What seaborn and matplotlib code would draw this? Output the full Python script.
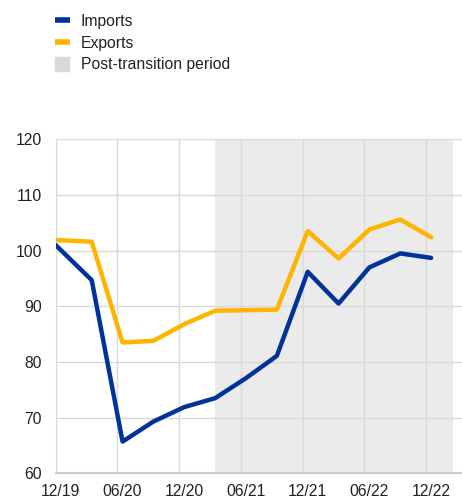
import matplotlib
matplotlib.use("Agg")
import matplotlib.pyplot as plt
from matplotlib.lines import Line2D
import seaborn as sns
import pandas as pd
import numpy as np

# months since Dec 2019 (quarterly observations)
months = [0, 3.5, 6.5, 9.5, 12.5, 15.5, 18.5, 21.5, 24.5, 27.5, 30.5, 33.5, 36.5]
imports = [101.0, 94.7, 65.7, 69.3, 71.9, 73.5, 77.1, 81.1, 96.2, 90.5, 97.0, 99.5, 98.7]
exports = [101.9, 101.6, 83.5, 83.8, 86.8, 89.2, 89.3, 89.4, 103.5, 98.6, 103.8, 105.6, 102.4]
tick_pos = [0, 6, 12, 18, 24, 30, 36]
tick_labels = ["12/19", "06/20", "12/20", "06/21", "12/21", "06/22", "12/22"]
shade_start, shade_end = 15.5, 38.6

sns.set_style("white")
plt.rcParams['font.family'] = ['Liberation Sans', 'DejaVu Sans']

BLUE = "#003299"
YELLOW = "#FFB400"
GREY = "#EBEBEB"
GRID = "#D9D9D9"
FS = 11.3

df = pd.DataFrame({
    "month": months * 2,
    "value": imports + exports,
    "series": ["Imports"] * len(months) + ["Exports"] * len(months),
})

fig = plt.figure(figsize=(4.62, 4.99), dpi=100)
ax = fig.add_axes([0.1206, 0.0515, 0.8794, 0.6693])

ax.axvspan(shade_start, shade_end, color=GREY, zorder=0, lw=0)
sns.lineplot(data=df, x="month", y="value", hue="series",
             palette={"Imports": BLUE, "Exports": YELLOW},
             linewidth=3.2, ax=ax, legend=False, zorder=3)

ax.set_xlim(0, 39.5)
ax.set_ylim(60, 120)
ax.set_yticks(range(60, 121, 10))
ax.set_xticks(tick_pos)
ax.set_xticklabels([])
ax.set_xticks([p + 0.5 for p in tick_pos], minor=True)
ax.set_xticklabels(tick_labels, minor=True)
ax.tick_params(axis="x", which="both", length=0, pad=8, labelsize=FS, colors="#222222")
ax.tick_params(axis="y", length=0, pad=10, labelsize=FS, colors="#222222")
ax.grid(True, which="major", color=GRID, lw=1, zorder=1)
ax.set_axisbelow(True)
ax.set_xlabel("")
ax.set_ylabel("")
for s in ["top", "right"]:
    ax.spines[s].set_visible(False)
ax.spines["left"].set_color(GRID)
ax.spines["bottom"].set_color("#CCCCCC")
ax.spines["bottom"].set_linewidth(1.5)

handles = [
    Line2D([], [], color=BLUE, lw=4, solid_capstyle="butt"),
    Line2D([], [], color=YELLOW, lw=4, solid_capstyle="butt"),
    Line2D([], [], color="#D9D9D9", marker="s", markersize=9.5, lw=0),
]
fig.legend(handles, ["Imports", "Exports", "Post-transition period"],
           loc="upper left", bbox_to_anchor=(0.119, 0.972), frameon=False,
           fontsize=FS, handlelength=0.95, handletextpad=0.68, labelspacing=0.43,
           borderaxespad=0, borderpad=0, labelcolor="#222222")

fig.savefig("out.png", dpi=100)
